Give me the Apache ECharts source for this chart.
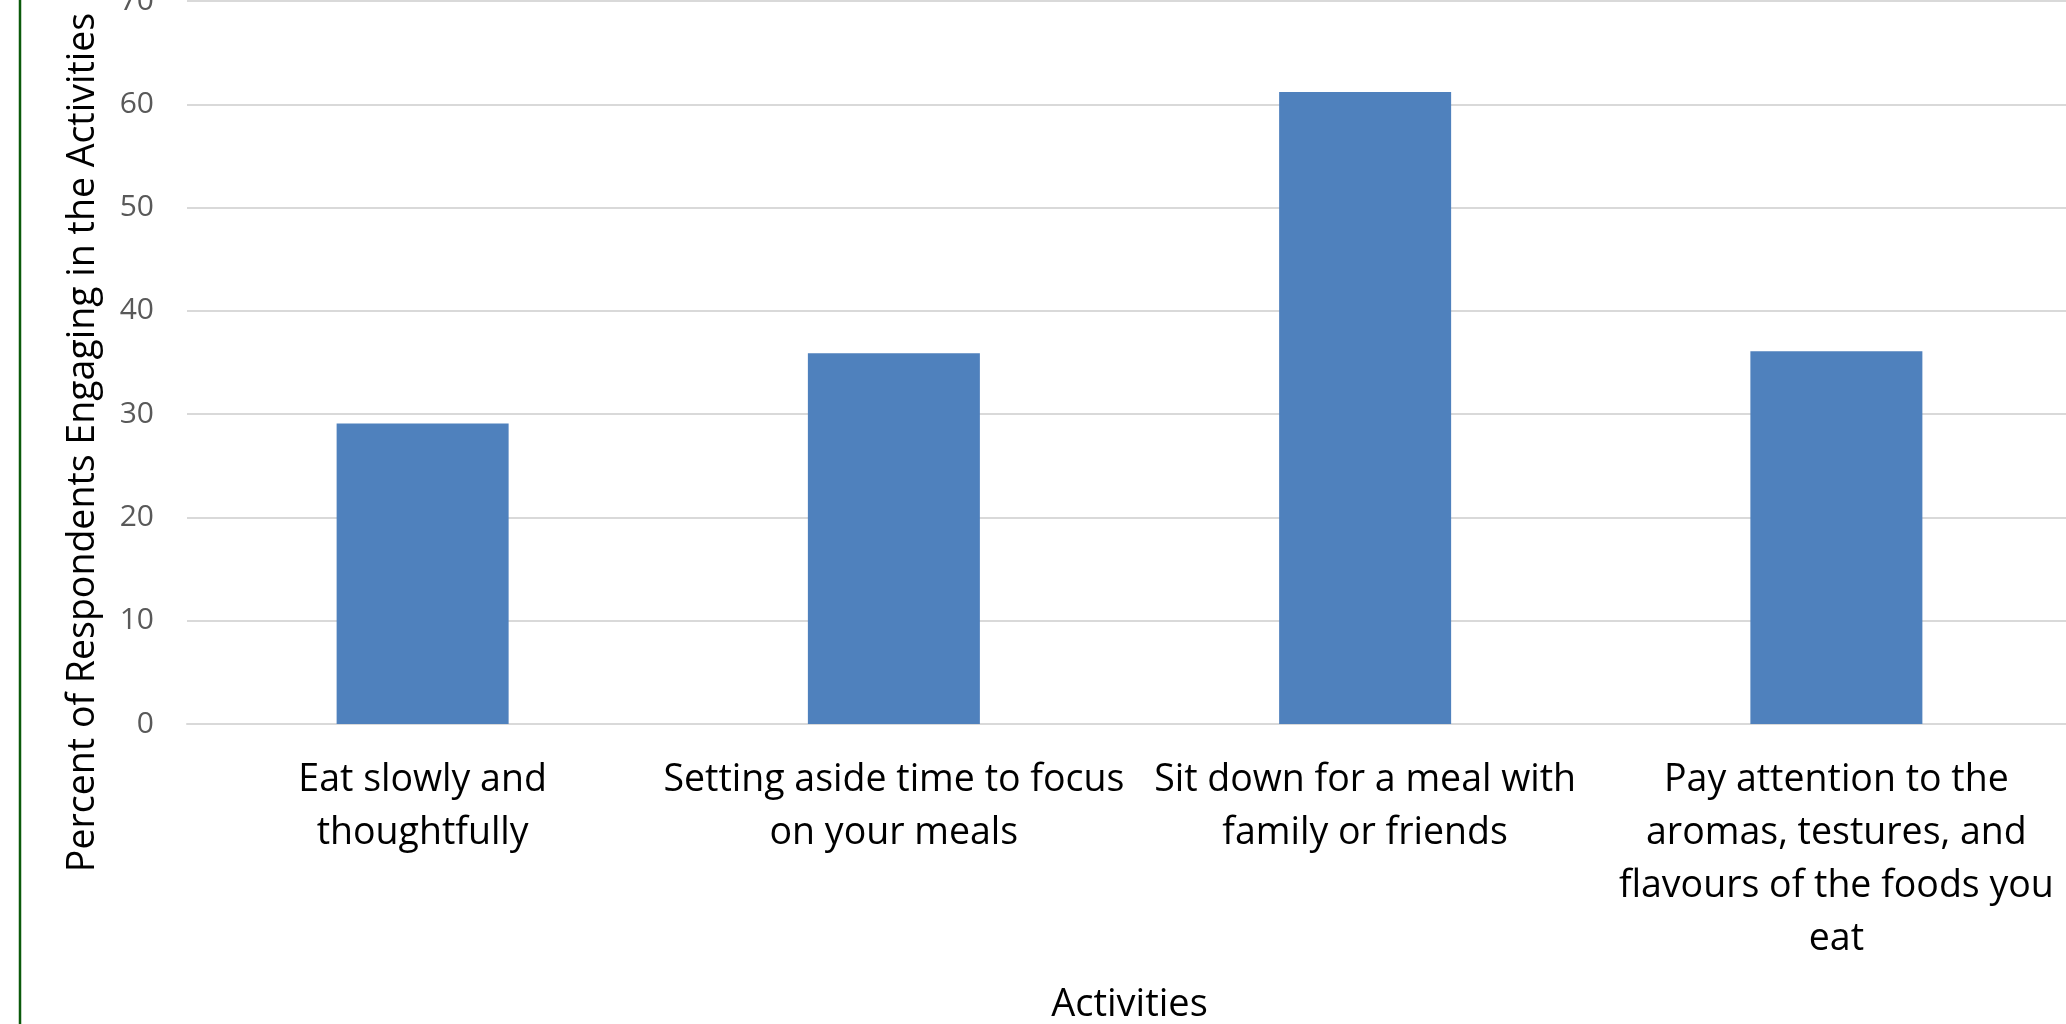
<!DOCTYPE html>
<html>
<head>
<meta charset="utf-8">
<script src="https://cdn.jsdelivr.net/npm/echarts@6/dist/echarts.min.js"></script>
<style>
html,body{margin:0;padding:0;background:#fff;}
#chart{width:2066px;height:1024px;}
</style>
</head>
<body>
<div id="chart"></div>
<script>
const categories = [
  "Eat slowly and\nthoughtfully",
  "Setting aside time to focus\non your meals",
  "Sit down for a meal with\nfamily or friends",
  "Pay attention to the\naromas, testures, and\nflavours of the foods you\neat"
];
const percentValues = [29.1, 35.9, 61.2, 36.1];
const yTicks = { min: 0, max: 70, interval: 10 };
const xAxisTitle = "Activities";
const yAxisTitle = "Percent of Respondents Engaging in the Activities";

const chart = echarts.init(document.getElementById('chart'), null, { renderer: 'canvas' });
const FONT = '"Open Sans", "Noto Sans", sans-serif';
chart.setOption({
  animation: false,
  backgroundColor: '#ffffff',
  grid: { left: 187, right: -6, top: 1, bottom: 300, containLabel: false, outerBoundsMode: 'none' },
  xAxis: {
    type: 'category',
    data: categories,
    name: xAxisTitle,
    nameLocation: 'middle',
    nameGap: 262,
    nameTextStyle: { fontFamily: FONT, fontSize: 38, color: '#000000' },
    axisLine: { show: true, lineStyle: { color: '#D9D9D9', width: 2 } },
    axisTick: { show: false },
    axisLabel: {
      interval: 0,
      margin: 30,
      fontFamily: FONT,
      fontSize: 37.5,
      lineHeight: 53,
      color: '#000000',
      align: 'center'
    }
  },
  yAxis: {
    type: 'value',
    min: yTicks.min,
    max: yTicks.max,
    interval: yTicks.interval,
    name: yAxisTitle,
    nameLocation: 'middle',
    nameRotate: 90,
    nameGap: 85,
    nameTextStyle: { fontFamily: FONT, fontSize: 37.5, color: '#000000', padding: [0, 160, 0, 0] },
    axisLine: { show: false },
    axisTick: { show: false },
    axisLabel: { margin: 33, fontFamily: FONT, fontSize: 30, color: '#595959' },
    splitLine: { show: true, lineStyle: { color: '#D9D9D9', width: 2 } }
  },
  series: [{
    type: 'bar',
    data: percentValues,
    barWidth: 172,
    itemStyle: { color: '#4F81BD' }
  }],
  graphic: [{
    type: 'line',
    shape: { x1: 20, y1: 0, x2: 20, y2: 1024 },
    style: { stroke: '#0B5A0B', lineWidth: 2.5 }
  }]
});
</script>
</body>
</html>
